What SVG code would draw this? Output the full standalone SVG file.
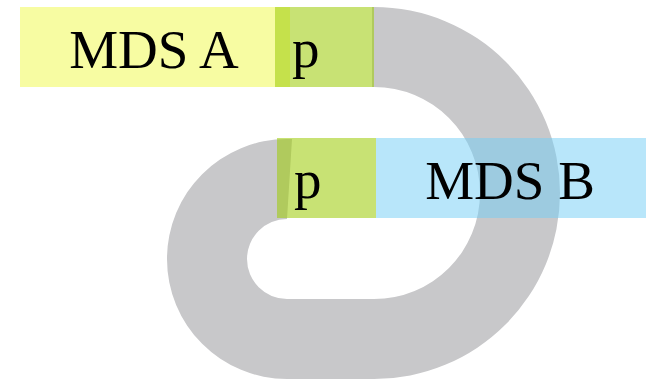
<svg xmlns="http://www.w3.org/2000/svg" width="651" height="379" viewBox="0 0 651 379">
  <style>
    .lbl { font-family: "Liberation Serif", "Times New Roman", serif; font-size: 55px; fill: #000; }
    .band { fill: #c8c8ca; }
    .pbox { fill: rgb(157,203,7); fill-opacity: 0.56; }
    .mdsa { fill: #f7fca2; }
    .mdsb { fill: rgb(116,206,245); fill-opacity: 0.51; }
  </style>
  <rect width="651" height="379" fill="#ffffff"/>
  <g id="connectors">
    <path class="band" d="M 372 7 H 374 A 186 186 0 0 1 374 379 H 287 A 120 120 0 0 1 287 139 H 292 L 287 219 A 40 40 0 0 0 287 299 H 374 A 106 106 0 0 0 374 87 H 372 Z"/>
  </g>
  <g id="mds-a">
    <rect class="mdsa" x="20" y="7" width="270" height="80"/>
    <text class="lbl" x="154" y="68" text-anchor="middle">MDS A</text>
  </g>
  <g id="p-a">
    <rect class="pbox" x="275" y="7" width="99" height="80"/>
    <text class="lbl" x="292" y="67">p</text>
  </g>
  <g id="p-b">
    <rect class="pbox" x="277" y="138" width="99" height="80"/>
    <text class="lbl" x="294" y="198">p</text>
  </g>
  <g id="mds-b">
    <rect class="mdsb" x="376" y="138" width="270" height="80"/>
    <text class="lbl" x="510" y="199" text-anchor="middle">MDS B</text>
  </g>
</svg>
